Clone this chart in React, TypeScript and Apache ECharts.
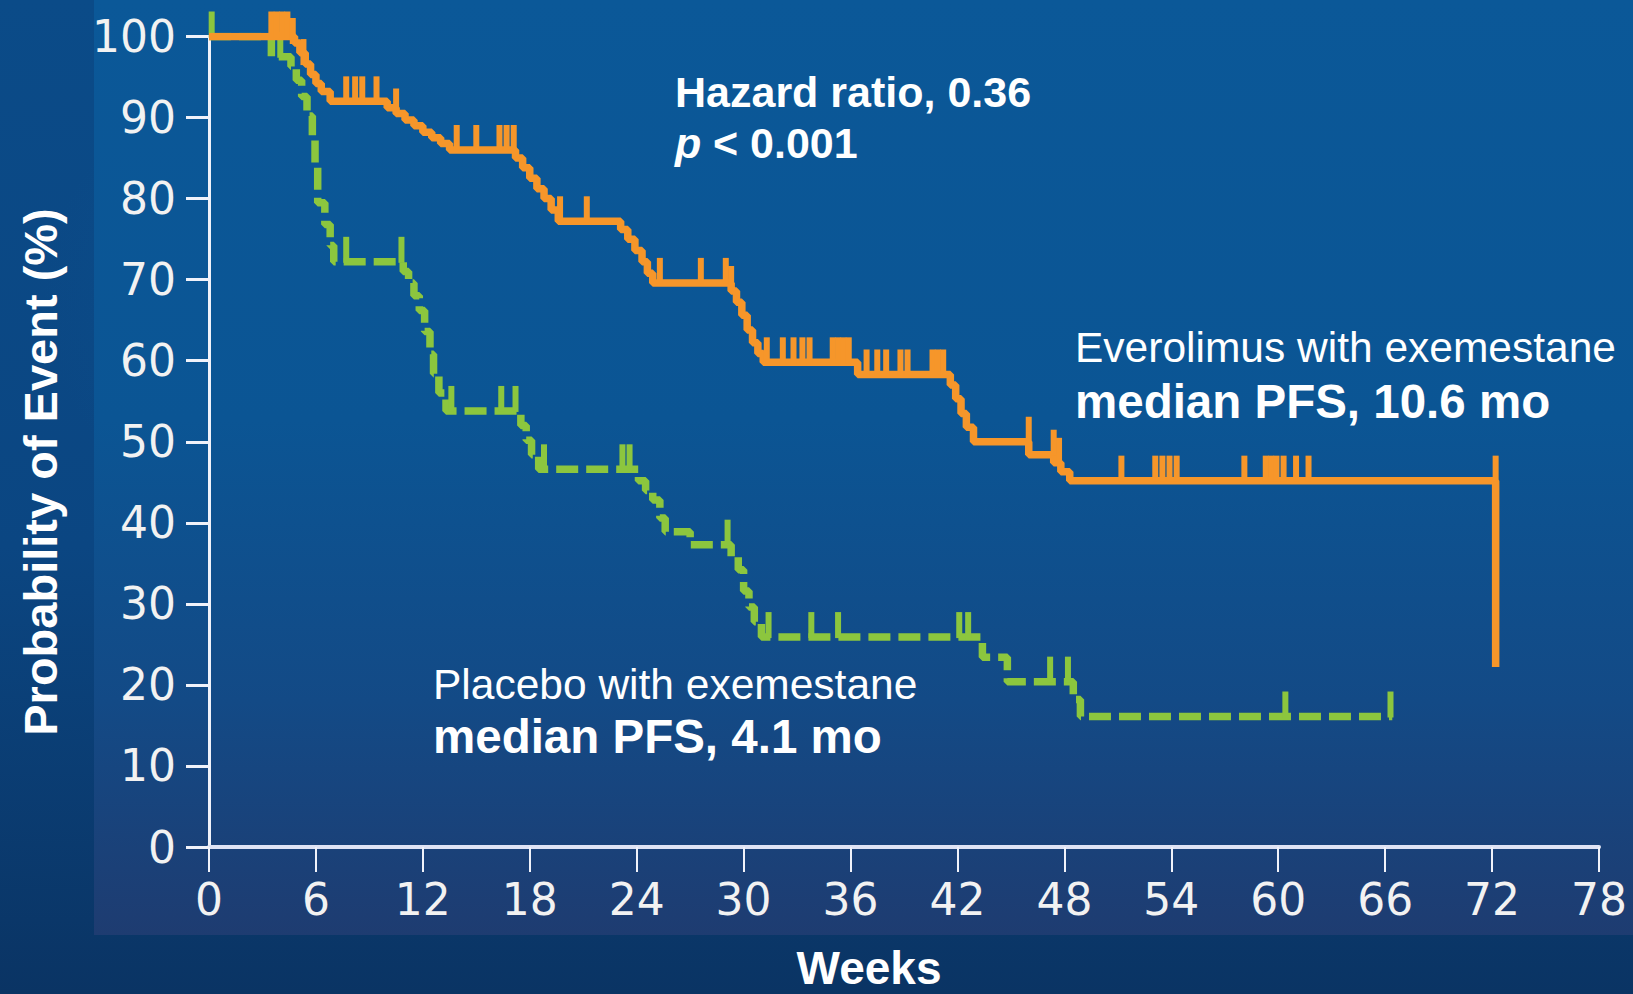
import React, { useEffect, useRef } from "react";
import * as echarts from "echarts";

// ---------- data ----------
const weekMin = 0;
const weekMax = 78;
const weekStep = 6;
const probMin = 0;
const probMax = 100;
const probStep = 10;

// Everolimus with exemestane — Kaplan–Meier step curve [week, %]
const everolimusCurve: [number, number][] = [
  [0, 100], [3.6, 100], [4.8, 99.2], [5.1, 98], [5.4, 96.6], [5.7, 95.3],
  [6.0, 94.2], [6.3, 93.2], [6.8, 92.0], [10.0, 91.2], [10.5, 90.5],
  [11.0, 89.7], [11.5, 89.0], [12.0, 88.2], [12.5, 87.5], [13.0, 86.8],
  [13.5, 86.0], [17.2, 85.0], [17.6, 83.8], [18.0, 82.5], [18.4, 81.2],
  [18.8, 80.0], [19.2, 78.6], [19.6, 77.2], [23.1, 76.2], [23.5, 75.0],
  [23.9, 73.6], [24.3, 72.2], [24.6, 70.8], [24.9, 69.6], [29.3, 68.6],
  [29.6, 67.2], [29.9, 65.6], [30.2, 63.8], [30.5, 62.2], [30.8, 60.9],
  [31.1, 59.8], [36.4, 58.3], [41.6, 57.0], [41.9, 55.3], [42.2, 53.5],
  [42.5, 51.8], [42.9, 50.0], [46.0, 48.4], [47.4, 47.4], [47.8, 46.3],
  [48.3, 45.2], [72.2, 45.2], [72.2, 22.2],
];

// Everolimus censor marks [week, %]
const everolimusCensored: [number, number][] = [
  [3.5, 100], [3.8, 100], [4.1, 100], [4.4, 100], [4.7, 99.2], [5.3, 96.6],
  [7.7, 92], [8.2, 92], [8.6, 92], [9.4, 92], [10.5, 90.5],
  [13.9, 86], [15.0, 86], [16.3, 86], [16.7, 86], [17.1, 86],
  [19.7, 77.2], [21.2, 77.2],
  [25.3, 69.6], [27.6, 69.6], [29.0, 69.6], [29.3, 68.6],
  [31.3, 59.8], [32.2, 59.8], [32.8, 59.8], [33.3, 59.8], [33.7, 59.8],
  [35.0, 59.8], [35.3, 59.8], [35.6, 59.8], [35.9, 59.8],
  [36.9, 58.3], [37.5, 58.3], [38.0, 58.3], [38.8, 58.3], [39.2, 58.3],
  [40.6, 58.3], [40.9, 58.3], [41.2, 58.3],
  [46.0, 50.0], [47.4, 48.4], [47.7, 47.4],
  [51.2, 45.2], [53.1, 45.2], [53.5, 45.2], [53.9, 45.2], [54.3, 45.2],
  [58.1, 45.2], [59.3, 45.2], [59.6, 45.2], [59.9, 45.2], [60.3, 45.2],
  [61.0, 45.2], [61.7, 45.2], [72.2, 45.2],
];

// Placebo with exemestane — Kaplan–Meier step curve [week, %]
const placeboCurve: [number, number][] = [
  [0, 100], [3.5, 97.5], [4.6, 96.3], [4.9, 94.6], [5.2, 92.6], [5.5, 90.2],
  [5.8, 87.6], [5.95, 84], [6.1, 79.5], [6.5, 76.8], [6.8, 74.2], [7.0, 72.2],
  [10.9, 71.0], [11.2, 69.6], [11.5, 68.0], [11.8, 66.2], [12.1, 63.6],
  [12.4, 60.8], [12.6, 58.4], [12.9, 56.0], [13.3, 53.8], [17.5, 52.0],
  [17.8, 50.2], [18.1, 48.4], [18.5, 46.6], [24.1, 45.2], [24.5, 44.0],
  [24.9, 42.8], [25.3, 40.6], [25.6, 38.9], [27.0, 37.3], [29.3, 35.8],
  [29.7, 34.2], [30.0, 31.6], [30.3, 29.6], [30.6, 27.8], [31.0, 25.9],
  [43.4, 23.4], [44.8, 20.4], [48.5, 18.2], [48.9, 16.1], [66.4, 16.1],
];

// Placebo censor marks [week, %]
const placeboCensored: [number, number][] = [
  [0.15, 100], [4.0, 97.5], [7.7, 72.2], [10.8, 72.2], [13.6, 53.8],
  [16.4, 53.8], [17.2, 53.8], [18.8, 46.6], [23.2, 46.6], [23.6, 46.6],
  [29.1, 37.3], [31.4, 25.9], [33.8, 25.9], [35.3, 25.9], [42.1, 25.9],
  [42.6, 25.9], [47.2, 20.4], [48.2, 20.4], [60.4, 16.1], [66.3, 16.1],
];

const xAxisTitle = "Weeks";
const yAxisTitle = "Probability of Event (%)";
const hazardText = "Hazard ratio, 0.36";
const pText = "< 0.001";
const everolimusLabel = "Everolimus with exemestane";
const everolimusMedian = "median PFS, 10.6 mo";
const placeboLabel = "Placebo with exemestane";
const placeboMedian = "median PFS, 4.1 mo";

// ---------- styling ----------
const ORANGE = "#f6962a";
const GREEN = "#8cc63e";
const TEXT = "#ffffff";
const SANS = '"Liberation Sans", Arial, sans-serif';
const TICK_FONT = '"DejaVu Sans", "Liberation Sans", sans-serif';

export default function App() {
  const ref = useRef<HTMLDivElement>(null);

  useEffect(() => {
    if (!ref.current) return;
    const chart = echarts.init(ref.current, null, { renderer: "svg" });

    const censorSymbol = {
      symbol: "rect",
      symbolSize: [6, 26],
      symbolOffset: [0, -12],
    };

    chart.setOption({
      animation: false,
      backgroundColor: "transparent",
      grid: {
        left: 209,
        right: 34,
        top: 36.5,
        bottom: 147,
        outerBoundsMode: "none",
      },
      xAxis: {
        type: "value",
        min: weekMin,
        max: weekMax,
        interval: weekStep,
        axisLine: { show: true, lineStyle: { color: "#dfe3f5", width: 4 } },
        axisTick: {
          show: true,
          inside: false,
          length: 25,
          lineStyle: { color: "#f0f2fa", width: 2 },
        },
        axisLabel: {
          color: "#f2f2f2",
          fontSize: 44,
          fontFamily: TICK_FONT,
          margin: 30,
        },
        splitLine: { show: false },
      },
      yAxis: {
        type: "value",
        min: probMin,
        max: probMax,
        interval: probStep,
        axisLine: { show: true, lineStyle: { color: "#f0f2fa", width: 3 } },
        axisTick: {
          show: true,
          inside: false,
          length: 23,
          lineStyle: { color: "#f0f2fa", width: 3 },
        },
        axisLabel: {
          color: "#f2f2f2",
          fontSize: 44,
          fontFamily: TICK_FONT,
          margin: 33,
        },
        splitLine: { show: false },
      },
      graphic: {
        elements: [
          {
            type: "rect",
            silent: true,
            z: -100,
            shape: { x: 94, y: 0, width: 1539, height: 935 },
            style: {
              fill: new echarts.graphic.LinearGradient(0, 0, 0, 1, [
                { offset: 0, color: "#0b5898" },
                { offset: 0.45, color: "#0b5594" },
                { offset: 0.75, color: "#134a86" },
                { offset: 1, color: "#1e3c71" },
              ]),
            },
          },
          {
            type: "text",
            x: 675,
            y: 92,
            style: {
              text: hazardText,
              fill: TEXT,
              font: `bold 43px ${SANS}`,
              textAlign: "left",
              textVerticalAlign: "middle",
            },
          },
          {
            type: "text",
            x: 675,
            y: 143,
            style: {
              text: "p",
              fill: TEXT,
              font: `italic bold 43px ${SANS}`,
              textAlign: "left",
              textVerticalAlign: "middle",
            },
          },
          {
            type: "text",
            x: 713,
            y: 143,
            style: {
              text: pText,
              fill: TEXT,
              font: `bold 43px ${SANS}`,
              textAlign: "left",
              textVerticalAlign: "middle",
            },
          },
          {
            type: "text",
            x: 1075,
            y: 347.5,
            style: {
              text: everolimusLabel,
              fill: TEXT,
              font: `42.5px ${SANS}`,
              textAlign: "left",
              textVerticalAlign: "middle",
            },
          },
          {
            type: "text",
            x: 1075,
            y: 401,
            style: {
              text: everolimusMedian,
              fill: TEXT,
              font: `bold 47.5px ${SANS}`,
              textAlign: "left",
              textVerticalAlign: "middle",
            },
          },
          {
            type: "text",
            x: 433,
            y: 684,
            style: {
              text: placeboLabel,
              fill: TEXT,
              font: `42.5px ${SANS}`,
              textAlign: "left",
              textVerticalAlign: "middle",
            },
          },
          {
            type: "text",
            x: 433,
            y: 736.5,
            style: {
              text: placeboMedian,
              fill: TEXT,
              font: `bold 47.5px ${SANS}`,
              textAlign: "left",
              textVerticalAlign: "middle",
            },
          },
          {
            type: "text",
            x: 869,
            y: 968,
            style: {
              text: xAxisTitle,
              fill: TEXT,
              font: `bold 46px ${SANS}`,
              textAlign: "center",
              textVerticalAlign: "middle",
            },
          },
          {
            type: "text",
            x: 40,
            y: 472,
            rotation: Math.PI / 2,
            style: {
              text: yAxisTitle,
              fill: TEXT,
              font: `bold 47px ${SANS}`,
              textAlign: "center",
              textVerticalAlign: "middle",
            },
          },
        ],
      },
      series: [
        {
          name: "Placebo with exemestane",
          type: "line",
          step: "end",
          data: placeboCurve,
          showSymbol: false,
          symbol: "none",
          lineStyle: { color: GREEN, width: 7.5, type: [22, 8] },
          z: 2,
        },
        {
          name: "Placebo censored",
          type: "scatter",
          data: placeboCensored,
          ...censorSymbol,
          itemStyle: { color: GREEN, opacity: 1 },
          z: 2,
        },
        {
          name: "Everolimus with exemestane",
          type: "line",
          step: "end",
          data: everolimusCurve,
          showSymbol: false,
          symbol: "none",
          lineStyle: { color: ORANGE, width: 7.5 },
          z: 3,
        },
        {
          name: "Everolimus censored",
          type: "scatter",
          data: everolimusCensored,
          ...censorSymbol,
          itemStyle: { color: ORANGE, opacity: 1 },
          z: 3,
        },
      ],
    });

    return () => chart.dispose();
  }, []);

  return (
    <div
      ref={ref}
      style={{
        position: "fixed",
        left: 0,
        top: 0,
        width: 1633,
        height: 994,
        background:
          "radial-gradient(ellipse 70% 55% at 55% 30%, rgba(13,94,158,0.85) 0%, rgba(13,94,158,0) 75%), linear-gradient(180deg, #0b4b88 0%, #0b4682 55%, #0a3464 100%)",
      }}
    />
  );
}
